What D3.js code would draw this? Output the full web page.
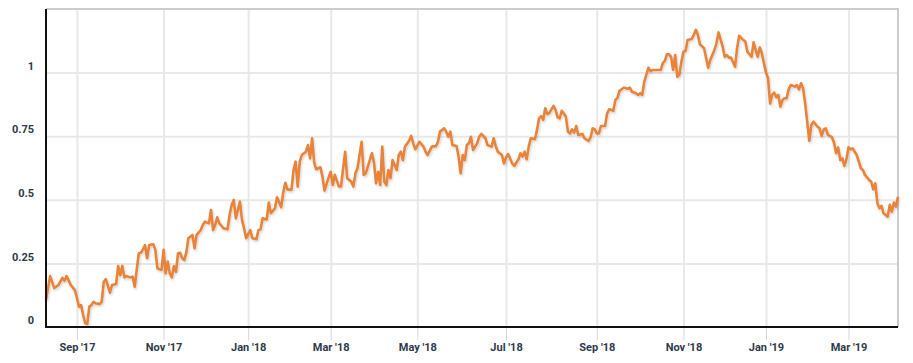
<!DOCTYPE html>
<html>
<head>
<meta charset="utf-8">
<script src="https://cdn.jsdelivr.net/npm/d3@7"></script>
<style>
  body { margin: 0; background: #fff; }
  #chart text { font-family: Roboto, "Liberation Sans", sans-serif; font-weight: 700; font-size: 11px; fill: #2e3a4b; }
</style>
</head>
<body>
<div id="chart"></div>
<script>
// trading calendar (weekdays minus market holidays)
const firstDay = "2017-08-11";
const lastDay = "2019-04-04";
const holidays = ["2017-09-04","2017-11-23","2017-12-25","2018-01-01","2018-01-15","2018-02-19",
  "2018-03-30","2018-05-28","2018-07-04","2018-09-03","2018-11-22","2018-12-05","2018-12-25",
  "2019-01-01","2019-01-21","2019-02-18"];

// y tick values
const yTicks = [0, 0.25, 0.5, 0.75, 1];

// series: trading session index and value
const session = [0,2,4,6,8,9,10,12,14,15,16,17,18,19,20,21,22,23,24,26,27,28,29,31,32,34,35,36,37,38,
  39,41,42,43,44,45,46,47,48,49,50,52,53,54,56,57,58,59,60,61,62,63,64,65,66,67,68,69,71,72,
  73,75,76,77,79,80,81,82,83,84,86,88,89,90,91,92,94,95,96,97,99,100,102,103,104,105,107,108,109,111,
  112,114,115,116,117,119,120,121,122,123,124,126,127,128,129,130,131,133,134,135,137,138,139,140,142,143,145,146,148,149,
  150,151,153,154,155,156,158,159,160,161,162,163,164,165,166,167,168,170,171,172,173,174,176,177,178,179,181,183,184,185,
  187,189,190,191,193,194,195,196,197,199,200,201,202,203,204,205,206,207,209,210,211,213,214,216,217,218,219,221,222,223,
  224,226,227,229,230,231,232,233,234,235,237,238,239,240,241,242,243,244,246,247,248,249,250,252,253,254,255,256,257,258,
  260,261,263,264,265,266,267,268,269,271,272,273,275,276,277,278,279,280,282,283,284,286,287,288,289,290,292,293,294,297,
  298,299,300,301,302,303,304,305,306,307,308,309,310,311,313,314,315,316,317,319,320,321,322,324,325,326,328,329,330,331,
  332,334,335,336,338,339,340,342,343,344,345,346,347,348,349,350,351,352,353,354,355,356,357,358,359,360,361,363,364,365,
  366,367,368,370,371,372,374,375,376,377,378,379,381,382,383,384,385,386,387,388,389,390,391,393,394,395,396,397,399,400,
  401,402,403,404,405,406,407,408,409,410,411,412,413];
const values = [0.106,0.200,0.153,0.165,0.193,0.182,0.200,0.165,0.145,0.114,0.080,0.086,0.047,0.015,0.012,0.080,0.086,0.099,0.093,0.090,
  0.099,0.178,0.188,0.135,0.165,0.169,0.240,0.204,0.240,0.195,0.200,0.195,0.198,0.158,0.227,0.290,0.292,0.305,0.322,0.270,
  0.322,0.325,0.303,0.231,0.224,0.303,0.211,0.257,0.211,0.195,0.240,0.217,0.290,0.292,0.270,0.263,0.292,0.349,0.362,0.309,
  0.362,0.381,0.401,0.414,0.408,0.460,0.381,0.401,0.431,0.408,0.388,0.384,0.440,0.480,0.499,0.427,0.493,0.421,0.388,0.349,
  0.381,0.349,0.345,0.381,0.384,0.427,0.423,0.489,0.447,0.467,0.510,0.471,0.528,0.567,0.541,0.539,0.617,0.650,0.552,0.650,
  0.676,0.689,0.715,0.663,0.742,0.646,0.620,0.628,0.591,0.536,0.588,0.610,0.558,0.598,0.552,0.552,0.689,0.585,0.571,0.552,
  0.604,0.624,0.728,0.598,0.604,0.630,0.683,0.646,0.565,0.610,0.558,0.709,0.571,0.558,0.617,0.585,0.656,0.617,0.676,0.689,
  0.656,0.709,0.732,0.751,0.722,0.699,0.728,0.709,0.689,0.676,0.709,0.711,0.728,0.768,0.781,0.768,0.748,0.768,0.715,0.711,
  0.670,0.604,0.676,0.656,0.715,0.722,0.748,0.696,0.722,0.748,0.759,0.742,0.715,0.709,0.742,0.711,0.689,0.676,0.643,0.667,
  0.680,0.643,0.633,0.659,0.683,0.670,0.689,0.659,0.709,0.742,0.738,0.774,0.820,0.829,0.814,0.860,0.837,0.842,0.869,0.853,
  0.824,0.820,0.850,0.827,0.768,0.761,0.777,0.764,0.790,0.755,0.759,0.742,0.732,0.746,0.781,0.777,0.761,0.761,0.790,0.790,
  0.840,0.856,0.850,0.892,0.901,0.928,0.934,0.941,0.936,0.941,0.925,0.919,0.912,0.919,0.912,0.964,1.019,1.006,1.010,1.010,
  1.010,1.037,1.046,1.072,1.072,1.062,1.010,1.069,0.984,0.991,1.043,1.082,1.085,1.128,1.132,1.148,1.168,1.148,1.111,1.096,
  1.056,1.019,1.050,1.089,1.115,1.158,1.102,1.062,1.069,1.059,1.059,1.023,1.096,1.145,1.128,1.122,1.082,1.062,1.119,1.089,
  1.062,1.099,1.076,1.037,1.001,0.978,0.879,0.912,0.921,0.903,0.912,0.866,0.892,0.899,0.899,0.934,0.951,0.945,0.951,0.934,
  0.958,0.938,0.879,0.732,0.794,0.807,0.787,0.781,0.751,0.777,0.781,0.755,0.746,0.724,0.683,0.706,0.656,0.663,0.633,0.659,
  0.706,0.699,0.702,0.676,0.650,0.624,0.617,0.598,0.578,0.571,0.541,0.565,0.486,0.467,0.476,0.447,0.440,0.434,0.480,0.453,
  0.489,0.473,0.512];

// set the dimensions and margins of the graph
const margin = {top: 9, right: 15, bottom: 36, left: 46};
const width = 913 - margin.left - margin.right;
const height = 363 - margin.top - margin.bottom;

// build list of trading days
const parse = d3.timeParse("%Y-%m-%d");
const fmtKey = d3.timeFormat("%Y-%m-%d");
const closed = new Set(holidays);
const days = d3.timeDay.range(parse(firstDay), d3.timeDay.offset(parse(lastDay), 1))
  .filter(d => d.getDay() !== 0 && d.getDay() !== 6 && !closed.has(fmtKey(d)));

// first session of every other month gets a tick
const tickIdx = days.map((d, i) => i)
  .filter(i => i > 0 && days[i].getMonth() !== days[i - 1].getMonth() && days[i].getMonth() % 2 === 0);
const fmtTick = d3.timeFormat("%b '%y");

const data = session.map((s, i) => ({s: s, v: values[i]}));

const svg = d3.select("#chart")
  .append("svg")
    .attr("width", 913)
    .attr("height", 363)
  .append("g")
    .attr("transform", `translate(${margin.left}, ${margin.top})`);

// line shadow
svg.append("defs")
  .append("filter")
    .attr("id", "shadow")
    .attr("x", "-5%").attr("y", "-5%").attr("width", "110%").attr("height", "120%")
  .append("feDropShadow")
    .attr("dx", 1).attr("dy", 1.5).attr("stdDeviation", 0.8)
    .attr("flood-color", "#000").attr("flood-opacity", 0.18);

// scales
const xScale = d3.scaleLinear()
  .domain([0, days.length - 1])
  .range([0, width]);
const yScale = d3.scaleLinear()
  .domain([0, 1.25])
  .range([height, 0]);

// horizontal grid
svg.append("g")
  .call(d3.axisLeft(yScale).tickValues(yTicks.slice(1)).tickSize(-width).tickFormat(""))
  .call(g => g.select(".domain").remove())
  .call(g => g.selectAll("line").attr("stroke", "#e8e8e8").attr("stroke-width", 2));

// vertical grid
svg.append("g")
  .attr("transform", `translate(0,${height})`)
  .call(d3.axisBottom(xScale).tickValues(tickIdx).tickSize(-height).tickFormat(""))
  .call(g => g.select(".domain").remove())
  .call(g => g.selectAll("line").attr("stroke", "#e8e8e8").attr("stroke-width", 2));

// plot border (top and right)
svg.append("path")
  .attr("d", `M0,0H${width}V${height}`)
  .attr("fill", "none")
  .attr("stroke", "#cccccc")
  .attr("stroke-width", 2);

// x axis ticks and labels
svg.append("g")
  .attr("transform", `translate(0,${height})`)
  .call(d3.axisBottom(xScale).tickValues(tickIdx).tickSize(13).tickPadding(3).tickFormat(i => fmtTick(days[i])))
  .call(g => g.select(".domain").remove())
  .call(g => g.selectAll("line").attr("stroke", "#ccd6eb"))
  .call(g => g.selectAll("text").attr("dy", "0.71em"));

// y axis labels
svg.append("g")
  .call(d3.axisLeft(yScale).tickValues(yTicks).tickSize(0).tickPadding(12).tickFormat(d3.format("")))
  .call(g => g.select(".domain").remove())
  .call(g => g.selectAll("text").attr("dy", "-0.3em"));

// the line
const line = d3.line()
  .x(d => xScale(d.s))
  .y(d => yScale(d.v));
svg.append("path")
  .datum(data)
  .attr("fill", "none")
  .attr("stroke", "#e8833a")
  .attr("stroke-width", 2.6)
  .attr("stroke-linejoin", "round")
  .attr("filter", "url(#shadow)")
  .attr("d", line);

// black axis lines
svg.append("path")
  .attr("d", `M0,0V${height}H${width}`)
  .attr("fill", "none")
  .attr("stroke", "#111")
  .attr("stroke-width", 2);
</script>
</body>
</html>
